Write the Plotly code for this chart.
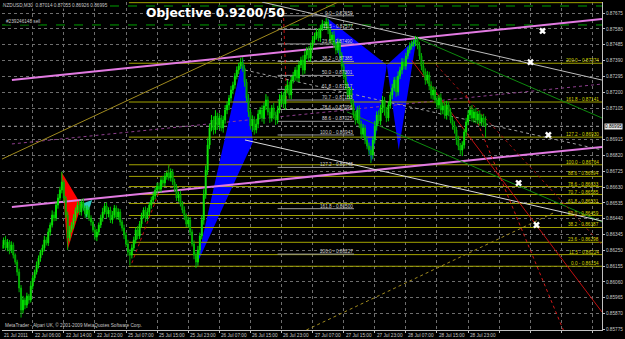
import plotly.graph_objects as go

# ---------------- data (prices in 1e-5 points) ----------------
tick_labels = ["21 Jul 2011", "22 Jul 06:00", "22 Jul 14:00", "22 Jul 22:00", "25 Jul 07:00",
               "25 Jul 15:00", "25 Jul 23:00", "26 Jul 07:00", "26 Jul 15:00", "26 Jul 23:00",
               "27 Jul 07:00", "27 Jul 15:00", "27 Jul 23:00", "28 Jul 07:00", "28 Jul 15:00",
               "28 Jul 23:00"]
bars_per_label = 16

first_open = 86260
close_pts = [
    86282, 86312, 86264, 86300, 86251, 86282, 86221, 86179, 86119, 86023,
    85891, 85951, 85921, 85975, 85951, 86035, 86083, 86119, 86161, 86203,
    86239, 86264, 86312, 86294, 86360, 86402, 86462, 86444, 86522, 86564,
    86612, 86660, 86564, 86462, 86324, 86372, 86402, 86444, 86492, 86522,
    86480, 86540, 86504, 86468, 86492, 86444, 86420, 86372, 86330, 86360,
    86402, 86444, 86480, 86516, 86468, 86492, 86432, 86462, 86504, 86450,
    86480, 86420, 86384, 86342, 86288, 86239, 86221, 86264, 86312, 86372,
    86336, 86408, 86456, 86492, 86444, 86480, 86522, 86552, 86576, 86612,
    86636, 86618, 86672, 86654, 86696, 86714, 86684, 86720, 86660, 86624,
    86564, 86588, 86528, 86492, 86456, 86408, 86432, 86360, 86288, 86221,
    86179, 86251, 86336, 86432, 86582, 86732, 86883, 86985, 87033, 86973,
    87057, 87003, 87045, 86985, 87033, 87093, 87123, 87165, 87213, 87243,
    87297, 87333, 87357, 87381, 87345, 87261, 87165, 87081, 86997, 87033,
    86973, 87009, 87069, 87093, 87045, 87117, 87153, 87081, 87045, 87105,
    87063, 87033, 87093, 87153, 87183, 87129, 87213, 87243, 87183, 87273,
    87297, 87333, 87285, 87363, 87393, 87333, 87423, 87453, 87405, 87478,
    87514, 87538, 87562, 87526, 87586, 87610, 87598, 87622, 87574, 87514,
    87544, 87484, 87453, 87502, 87423, 87357, 87297, 87237, 87183, 87213,
    87129, 87069, 87033, 87093, 87009, 86948, 86985, 86913, 86877, 86852,
    86822, 86913, 86997, 87063, 87027, 87105, 87153, 87081, 87045, 87123,
    87183, 87225, 87273, 87201, 87297, 87333, 87381, 87357, 87417, 87453,
    87478, 87490, 87502, 87514, 87478, 87417, 87357, 87321, 87273, 87303,
    87237, 87183, 87213, 87153, 87123, 87165, 87093, 87117, 87063, 87123,
    87081, 87033, 87003, 86973, 86913, 86877, 86852, 86883, 86961, 87021,
    87063, 87093, 87045, 87081, 87033, 87069, 87021, 87045, 87014, 86995]
upper_wick = [
    20, 15, 25, 18, 12, 22, 15, 10, 14, 20, 18, 25, 15, 20, 12, 30, 18, 15, 22, 16,
    14, 20, 25, 18, 22, 15, 28, 20, 16, 24, 20, 62, 15, 12, 20, 25, 18, 22, 15, 20,
    25, 18, 22, 15, 28, 20, 16, 14, 22, 18, 15, 20, 25, 18, 22, 16, 20, 24, 18, 15,
    22, 18, 14, 20, 16, 25, 18, 22, 20, 15, 24, 18, 20, 16, 22, 25, 18, 20, 24, 16,
    20, 22, 18, 25, 20, 16, 49, 22, 18, 20, 24, 16, 20, 18, 22, 15, 20, 18, 16, 22,
    18, 25, 20, 30, 35, 28, 40, 25, 30, 22, 35, 20, 28, 18, 25, 30, 22, 18, 25, 20,
    18, 22, 20, 25, 30, 20, 18, 25, 20, 28, 22, 30, 25, 18, 28, 20, 35, 22, 25, 18,
    30, 20, 25, 35, 22, 18, 25, 30, 20, 22, 25, 18, 30, 22, 20, 28, 25, 18, 22, 20,
    25, 20, 18, 22, 20, 25, 18, 24, 20, 22, 18, 25, 20, 22, 15, 18, 20, 25, 22, 18,
    20, 25, 18, 22, 28, 20, 25, 18, 22, 20, 25, 20, 30, 22, 28, 20, 25, 18, 30, 22,
    20, 25, 18, 22, 28, 20, 24, 22, 20, 18, 22, 20, 18, 24, 20, 25, 18, 30, 22, 25,
    20, 28, 22, 18, 25, 20, 28, 22, 30, 25, 20, 25, 18, 22, 20, 25, 18, 22, 20, 25,
    28, 22, 30, 20, 25, 18, 22, 20, 25, 41]
lower_wick = [
    18, 22, 15, 20, 25, 18, 20, 15, 22, 25, 45, 20, 25, 18, 22, 15, 20, 18, 15, 20,
    22, 18, 20, 15, 18, 22, 15, 20, 18, 22, 15, 20, 25, 18, 73, 20, 15, 22, 18, 20,
    18, 22, 15, 25, 20, 18, 22, 15, 20, 25, 20, 18, 22, 15, 25, 20, 18, 22, 20, 15,
    18, 22, 20, 25, 18, 22, 60, 20, 18, 22, 20, 18, 22, 15, 25, 18, 20, 22, 15, 20,
    22, 18, 20, 25, 18, 22, 15, 20, 18, 22, 18, 22, 15, 20, 25, 18, 22, 20, 15, 25,
    36, 22, 25, 20, 28, 22, 30, 25, 20, 28, 22, 30, 25, 20, 28, 22, 25, 30, 20, 25,
    22, 20, 25, 18, 22, 28, 25, 30, 22, 35, 28, 20, 25, 30, 22, 35, 25, 20, 30, 22,
    25, 30, 22, 20, 28, 25, 35, 20, 22, 25, 20, 28, 22, 25, 18, 30, 22, 25, 20, 22,
    25, 18, 22, 20, 25, 18, 22, 20, 25, 22, 22, 20, 25, 18, 22, 25, 20, 22, 28, 25,
    22, 25, 28, 20, 25, 30, 22, 25, 20, 28, 48, 25, 22, 28, 20, 25, 30, 22, 25, 20,
    22, 25, 20, 28, 22, 18, 25, 20, 22, 18, 20, 22, 18, 25, 20, 22, 25, 20, 28, 22,
    25, 22, 28, 20, 25, 22, 30, 25, 22, 28, 25, 20, 28, 22, 30, 25, 28, 36, 22, 25,
    20, 25, 22, 28, 20, 25, 22, 25, 20, 69]

price_ticks = [0.87675, 0.87580, 0.87485, 0.87390, 0.87295, 0.87200, 0.87105, 0.86915,
               0.86820, 0.86725, 0.86630, 0.86535, 0.86440, 0.86345, 0.86250, 0.86155,
               0.86060, 0.85965, 0.85870, 0.85775]
current_price = 0.86995
header_text = "NZDUSD,M30  0.87014 0.87055 0.86926 0.86995"
order_label = "#239246148 sell"
order_prices = [0.87718, 0.87604]

# Fibonacci expansion (olive, right)
fib_r_names = ["200.0", "161.8", "127.2", "100.0", "88.6", "78.6", "70.7", "61.8", "50.0",
               "38.2", "23.6", "11.5", "0.0"]
fib_r_prices = [0.87374, 0.87141, 0.86930, 0.86764, 0.86694, 0.86633, 0.86585, 0.86531,
                0.86459, 0.86387, 0.86298, 0.86224, 0.86154]
fib_r_start = 65.5
# Fibonacci retracement (grey, middle)
fib_g_names = ["0.0", "11.5", "23.6", "38.2", "50.0", "61.8", "70.7", "78.6", "88.6", "100.0",
               "127.2", "161.8", "200.0"]
fib_g_prices = [0.87659, 0.87577, 0.87490, 0.87385, 0.87301, 0.87217, 0.87153, 0.87096,
                0.87025, 0.86943, 0.86748, 0.86500, 0.86227]
fib_g_from, fib_g_to = 142.0, 181.3

# trendline anchors: (bar0, price0, bar1, price1)
line_anchors = [
    (5.3, 0.87273, 308.9, 0.87640),   # violet upper
    (5.3, 0.86510, 308.9, 0.86871),   # violet lower
    (5.3, 0.86889, 308.9, 0.87249),   # purple dotted mid
    (0.2, 0.86798, 173.2, 0.87742),   # olive diagonal
    (156.8, 0.85771, 284.9, 0.86480), # olive dotted
    (133.9, 0.87742, 308.9, 0.87273), # grey
    (213.5, 0.87526, 308.9, 0.87045), # green 1
    (177.8, 0.87081, 308.9, 0.86420), # green 2
    (125.2, 0.86913, 308.9, 0.86426), # white
    (125.2, 0.87333, 308.9, 0.86853), # grey dotted
    (210.9, 0.87393, 308.9, 0.85879), # red
    (239.0, 0.87183, 289.0, 0.85771), # red dotted
    (223.7, 0.87363, 308.9, 0.86282), # dark red dotted
    (67.0, 0.86173, 86.9, 0.86780),   # red dotted left
    (145.1, 0.87646, 146.6, 0.87153), # red dotted vertical
]
line_styles = [
    ("#e27ae2", 2, "solid"), ("#e27ae2", 2, "solid"), ("#8f3f8f", 1, "dot"),
    ("#a08a1e", 1, "solid"), ("#a08a1e", 1, "dot"), ("#bdbdbd", 1, "solid"),
    ("#0e8a0e", 1, "solid"), ("#0e8a0e", 1, "solid"), ("#d8d8d8", 1, "solid"),
    ("#a0a0a0", 1, "dot"), ("#c01010", 1, "solid"), ("#d01818", 1, "dot"),
    ("#9a1010", 1, "dot"), ("#c01010", 1, "dot"), ("#c01010", 1, "dot"),
]

# pattern triangles (bar, price)
blue_polys = [
    [(100.2, 0.86161), (124.2, 0.87405), (129.3, 0.86901)],
    [(167.5, 0.87646), (198.2, 0.87363), (190.5, 0.86780)],
    [(198.2, 0.87363), (213.5, 0.87526), (204.3, 0.86853)],
]
red_poly = [(30.8, 0.86720), (41.0, 0.86522), (33.9, 0.86251)]
cyan_poly = [(41.0, 0.86528), (46.6, 0.86552), (43.6, 0.86444)]

mark_bars = [278.3, 272.1, 281.3, 266.0, 275.2]
mark_prices = [0.87568, 0.87381, 0.86943, 0.86654, 0.86402]

x_range = [0.2, 308.9]
y_range = [0.85771, 0.87742]

# ---------------- build ----------------
n = len(close_pts)
bars = list(range(n))
opens, highs, lows, closes = [], [], [], []
prev = first_open
for c, uw, lw in zip(close_pts, upper_wick, lower_wick):
    o = prev
    opens.append(o / 1e5)
    closes.append(c / 1e5)
    highs.append((max(o, c) + uw) / 1e5)
    lows.append((min(o, c) - lw) / 1e5)
    prev = c

SMALL = dict(family="Liberation Sans, Arial, sans-serif", size=4.7, color="#c8c8c8")

fig = go.Figure()
fig.add_trace(go.Candlestick(
    x=bars, open=opens, high=highs, low=lows, close=closes,
    increasing=dict(line=dict(color="#00e000", width=1), fillcolor="#80ff40"),
    decreasing=dict(line=dict(color="#00b400", width=1), fillcolor="#005a00"),
    hoverinfo="skip", showlegend=False))
fig.add_trace(go.Scatter(
    x=mark_bars, y=mark_prices, mode="markers",
    marker=dict(symbol="x", size=6, color="white", line=dict(width=0)),
    hoverinfo="skip", showlegend=False))

shapes = []

def poly_path(pts):
    return "M " + " L ".join(f"{b},{p}" for b, p in pts) + " Z"

for poly in blue_polys:
    shapes.append(dict(type="path", path=poly_path(poly), xref="x", yref="y",
                       fillcolor="#0000ff", line=dict(width=0), layer="between"))
shapes.append(dict(type="path", path=poly_path(red_poly), xref="x", yref="y",
                   fillcolor="#ff0000", line=dict(width=0), layer="between"))
shapes.append(dict(type="path", path=poly_path(cyan_poly), xref="x", yref="y",
                   fillcolor="#2fc6c0", line=dict(width=0), layer="between"))

for p in fib_r_prices:
    shapes.append(dict(type="line", xref="x", yref="y", x0=fib_r_start, x1=x_range[1],
                       y0=p, y1=p, line=dict(color="#a3a300", width=1), layer="between"))
for p in fib_g_prices:
    shapes.append(dict(type="line", xref="x", yref="y", x0=fib_g_from, x1=fib_g_to,
                       y0=p, y1=p, line=dict(color="#9a9a9a", width=1), layer="between"))
shapes.append(dict(type="line", xref="x", yref="y", x0=fib_r_start, x1=x_range[1],
                   y0=0.87738, y1=0.87738, line=dict(color="#a3a300", width=1), layer="between"))

for p in order_prices:
    shapes.append(dict(type="line", xref="paper", yref="y", x0=0, x1=1, y0=p, y1=p,
                       line=dict(color="#00a000", width=1, dash="dash"), layer="between"))
shapes.append(dict(type="line", xref="paper", yref="y", x0=0, x1=1,
                   y0=current_price, y1=current_price,
                   line=dict(color="#a8a8a8", width=1, dash="dot"), layer="between"))

for (b0, p0, b1, p1), (col, w, dash) in zip(line_anchors, line_styles):
    shapes.append(dict(type="line", xref="x", yref="y", x0=b0, y0=p0, x1=b1, y1=p1,
                       line=dict(color=col, width=w, dash=dash), layer="between"))

ann = []
for k, lab in enumerate(tick_labels):
    ann.append(dict(x=max(k * bars_per_label, x_range[0]), y=0, xref="x", yref="paper",
                    text=lab, showarrow=False, xanchor="left", yanchor="top", yshift=-1,
                    font=SMALL))
for name, p in zip(fib_r_names, fib_r_prices):
    ann.append(dict(x=1, y=p, xref="paper", yref="y", text=f"{name} - {p:.5f}",
                    showarrow=False, xanchor="right", yanchor="bottom", xshift=-2, yshift=-1,
                    borderpad=0, font=dict(family=SMALL["family"], size=4.7, color="#d4d400")))
for name, p in zip(fib_g_names, fib_g_prices):
    ann.append(dict(x=fib_g_to, y=p, xref="x", yref="y", text=f"{name} - {p:.5f}",
                    showarrow=False, xanchor="right", yanchor="bottom", yshift=-1,
                    borderpad=0, font=dict(family=SMALL["family"], size=4.7, color="#d0d0d0")))
ann.append(dict(x=0, y=1, xref="paper", yref="paper", text=header_text, showarrow=False,
                xanchor="left", yanchor="top", bgcolor="#000000", borderpad=0, font=SMALL))
ann.append(dict(x=0.005, y=order_prices[1], xref="paper", yref="y", text=order_label,
                showarrow=False, xanchor="left", yanchor="bottom", bgcolor="#000000",
                borderpad=0, font=SMALL))
ann.append(dict(x=0.236, y=0.9665, xref="paper", yref="paper", text="<b>Objective 0.9200/50</b>",
                showarrow=False, xanchor="left", yanchor="middle",
                font=dict(family="DejaVu Sans, Verdana, sans-serif", size=12.3, color="white")))
ann.append(dict(x=0.003, y=0, xref="paper", yref="paper",
                text="MetaTrader - Alpari UK, © 2001-2009 MetaQuotes Software Corp.",
                showarrow=False, xanchor="left", yanchor="bottom", yshift=1, borderpad=0,
                font=SMALL))
ann.append(dict(x=1, y=current_price, xref="paper", yref="y", text=f"{current_price:.5f}",
                showarrow=False, xanchor="left", yanchor="middle", xshift=2, borderpad=0,
                bgcolor="#e6e6e6", font=dict(family=SMALL["family"], size=4.7, color="#000000")))

fig.update_layout(
    width=625, height=339, margin=dict(l=2, r=18, t=2, b=9, pad=0),
    paper_bgcolor="#000000", plot_bgcolor="#000000",
    shapes=shapes, annotations=ann, showlegend=False,
    xaxis=dict(range=x_range, tickvals=list(range(0, 305, bars_per_label)),
               showticklabels=False, ticks="outside", ticklen=2, tickcolor="#c0c0c0",
               showgrid=True, gridcolor="#6e6e6e", griddash="dot", gridwidth=1,
               zeroline=False, showline=True, linecolor="#c0c0c0", linewidth=1,
               rangeslider=dict(visible=False), fixedrange=True),
    yaxis=dict(range=y_range, side="right", tickvals=price_ticks,
               ticktext=[f"{v:.5f}" for v in price_ticks], tickfont=SMALL,
               ticks="outside", ticklen=2, tickcolor="#c0c0c0",
               showgrid=True, gridcolor="#6e6e6e", griddash="dot", gridwidth=1,
               zeroline=False, showline=True, linecolor="#c0c0c0", linewidth=1,
               fixedrange=True),
)

fig.write_html("out.html")
